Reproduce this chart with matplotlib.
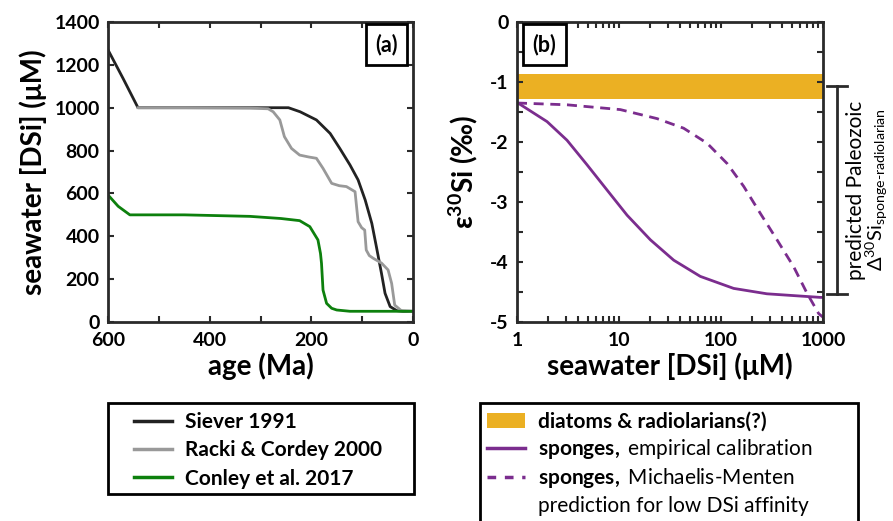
import matplotlib
matplotlib.use('Agg')
import matplotlib.pyplot as plt
from matplotlib.ticker import MultipleLocator, LogLocator, NullFormatter
from matplotlib.lines import Line2D
from matplotlib.patches import Patch, Rectangle

plt.rcParams['font.family'] = ['Lato', 'DejaVu Sans']
plt.rcParams['mathtext.fontset'] = 'custom'
plt.rcParams['mathtext.rm'] = 'Lato'
plt.rcParams['mathtext.bf'] = 'Lato:bold'
plt.rcParams['mathtext.it'] = 'Lato:italic'
plt.rcParams['axes.unicode_minus'] = False

# panel (a): seawater DSi through time (Ma, uM)
siever_age = [600, 570, 541, 450, 320, 245, 222, 190, 163, 144, 124, 108, 94, 81, 72, 62, 55, 45, 32, 20, 0]
siever_dsi = [1270, 1135, 1000, 1000, 1000, 1000, 981, 943, 880, 810, 733, 663, 569, 460, 351, 227, 134, 72, 53, 50, 50]

racki_age = [541, 450, 320, 285, 275, 262, 253, 239, 223, 205, 190, 177, 160, 145, 131, 114, 108, 101, 95, 92, 86, 78, 62, 49, 42, 36, 23, 0]
racki_dsi = [1000, 1000, 998, 995, 981, 943, 865, 810, 779, 770, 764, 717, 647, 636, 632, 608, 468, 440, 429, 336, 310, 297, 275, 243, 180, 79, 53, 50]

conley_age = [600, 580, 557, 450, 321, 260, 223, 203, 187, 182, 180, 177, 170, 160, 150, 124, 0]
conley_dsi = [593, 540, 500, 500, 493, 483, 473, 445, 383, 320, 274, 149, 87, 64, 56, 50, 50]

# panel (b): fractionation vs seawater DSi
band_lo, band_hi = -1.28, -0.87

emp_dsi = [1, 1.97, 3.09, 4.86, 7.63, 12.0, 20.3, 34.4, 62.7, 133, 282, 942, 1000]
emp_eps = [-1.34, -1.66, -1.97, -2.38, -2.80, -3.22, -3.63, -3.97, -4.24, -4.44, -4.53, -4.59, -4.59]

mm_dsi = [1, 3.09, 10.3, 23.6, 43, 73, 115, 167, 243, 354, 516, 697, 907, 1000]
mm_eps = [-1.35, -1.38, -1.46, -1.61, -1.77, -2.02, -2.36, -2.74, -3.19, -3.63, -4.08, -4.52, -4.86, -4.92]

bracket_top, bracket_bot = -1.07, -4.53

c_black = '#222222'
c_gray = '#999999'
c_green = '#0d800d'
c_purple = '#7b2d8e'
c_orange = '#ebb023'
c_axis = '#2a2a2a'

W, H = 893, 521
fig = plt.figure(figsize=(W / 100, H / 100), dpi=100)
ax1 = fig.add_axes([108 / W, 1 - 322 / H, 305 / W, 300 / H])
ax2 = fig.add_axes([517 / W, 1 - 322 / H, 306 / W, 300 / H])


def style(ax):
    for s in ax.spines.values():
        s.set_linewidth(2)
        s.set_color(c_axis)
    ax.tick_params(which='both', direction='in', top=True, right=True,
                   length=4, width=1.5, color=c_axis, labelsize=14)
    ax.tick_params(axis='x', pad=7)
    ax.tick_params(axis='y', pad=6)
    for lab in ax.get_xticklabels() + ax.get_yticklabels():
        lab.set_fontweight('bold')


# ---- (a)
ax1.plot(siever_age, siever_dsi, color=c_black, lw=2)
ax1.plot(racki_age, racki_dsi, color=c_gray, lw=2)
ax1.plot(conley_age, conley_dsi, color=c_green, lw=2)
ax1.set_xlim(600, 0)
ax1.set_ylim(0, 1400)
ax1.xaxis.set_major_locator(MultipleLocator(200))
ax1.xaxis.set_minor_locator(MultipleLocator(100))
ax1.yaxis.set_major_locator(MultipleLocator(200))
style(ax1)
ax1.set_xlabel('age (Ma)', fontsize=20, fontweight='bold', labelpad=3)
ax1.set_ylabel('seawater [DSi] (μM)', fontsize=20, fontweight='bold', labelpad=5)
ax1.text(0.95, 0.96, '(a)', transform=ax1.transAxes, ha='right', va='top',
         fontsize=15.5, fontweight='bold',
         bbox=dict(boxstyle='square,pad=0.45', fc='white', ec='black', lw=2))

# ---- (b)
ax2.axhspan(band_lo, band_hi, color=c_orange, lw=0)
ax2.plot(emp_dsi, emp_eps, color=c_purple, lw=2)
ax2.plot(mm_dsi, mm_eps, color=c_purple, lw=2, ls=(0, (3.6, 2.4)))
ax2.set_xscale('log')
ax2.set_xlim(1, 1000)
ax2.set_ylim(-5, 0)
ax2.xaxis.set_minor_locator(LogLocator(base=10, subs=range(2, 10)))
ax2.xaxis.set_minor_formatter(NullFormatter())
ax2.set_xticks([1, 10, 100, 1000])
ax2.set_xticklabels(['1', '10', '100', '1000'])
ax2.yaxis.set_minor_locator(MultipleLocator(0.5))
ax2.set_yticks([-5, -4, -3, -2, -1, 0])
ax2.set_yticklabels(['-5', '-4', '-3', '-2', '-1', '0'])
style(ax2)
ax2.set_xlabel('seawater [DSi] (μM)', fontsize=20, fontweight='bold', labelpad=3)
ax2.set_ylabel(r'ε$^{\mathbf{30}}$Si (‰)', fontsize=20, fontweight='bold', labelpad=7)
ax2.text(0.05, 0.96, '(b)', transform=ax2.transAxes, ha='left', va='top',
         fontsize=15.5, fontweight='bold',
         bbox=dict(boxstyle='square,pad=0.45', fc='white', ec='black', lw=2))

# bracket to the right of (b)
tr = ax2.get_yaxis_transform()
bx = (837 - 517) / 306
cap = 10 / 306
ax2.plot([bx, bx], [bracket_top, bracket_bot], color=c_axis, lw=2, transform=tr, clip_on=False)
for yb in (bracket_top, bracket_bot):
    ax2.plot([bx - cap, bx + cap], [yb, yb], color=c_axis, lw=2, transform=tr, clip_on=False)
ymid = (bracket_top + bracket_bot) / 2
ax2.text((856 - 517) / 306, ymid, 'predicted Paleozoic', transform=tr,
         rotation=90, ha='center', va='center', fontsize=15)
ax2.text((877 - 517) / 306, ymid, r'$\Delta^{30}$Si$_{\mathrm{sponge‐radiolarian}}$',
         transform=tr, rotation=90, ha='center', va='center', fontsize=14.5)

# ---- legends (frames drawn by hand)
h1 = [Line2D([], [], color=c_black, lw=2.5),
      Line2D([], [], color=c_gray, lw=2.5),
      Line2D([], [], color=c_green, lw=2.5)]
fig.legend(h1, ['Siever 1991', 'Racki & Cordey 2000', 'Conley et al. 2017'],
           loc='upper left', bbox_to_anchor=(134 / W, 1 - 412 / H),
           prop={'size': 15, 'weight': 'bold'}, frameon=False,
           handlelength=1.83, handletextpad=0.62, borderpad=0,
           labelspacing=0.4, borderaxespad=0)
fig.patches.append(Rectangle((108 / W, 1 - 494 / H), 306 / W, 91 / H,
                             transform=fig.transFigure, fill=False, ec='black', lw=2))

h2 = [Patch(facecolor=c_orange, edgecolor='none'),
      Line2D([], [], color=c_purple, lw=2.5),
      Line2D([], [], color=c_purple, lw=2.5, ls=(0, (2.5, 2.5))),
      Line2D([], [], color='none')]
labels2 = ['diatoms & radiolarians(?)',
           r'$\mathbf{sponges,}$ empirical calibration',
           r'$\mathbf{sponges,}$ Michaelis-Menten',
           'prediction for low DSi affinity']
leg2 = fig.legend(h2, labels2,
                  loc='upper left', bbox_to_anchor=(487 / W, 1 - 412 / H),
                  prop={'size': 15}, frameon=False,
                  handlelength=1.83, handletextpad=0.62, borderpad=0,
                  labelspacing=0.25, borderaxespad=0)
leg2.get_texts()[0].set_fontweight('bold')
fig.patches.append(Rectangle((480 / W, 1 - 540 / H), 378 / W, 137 / H,
                             transform=fig.transFigure, fill=False, ec='black', lw=2))

fig.savefig('out.png', dpi=100)
